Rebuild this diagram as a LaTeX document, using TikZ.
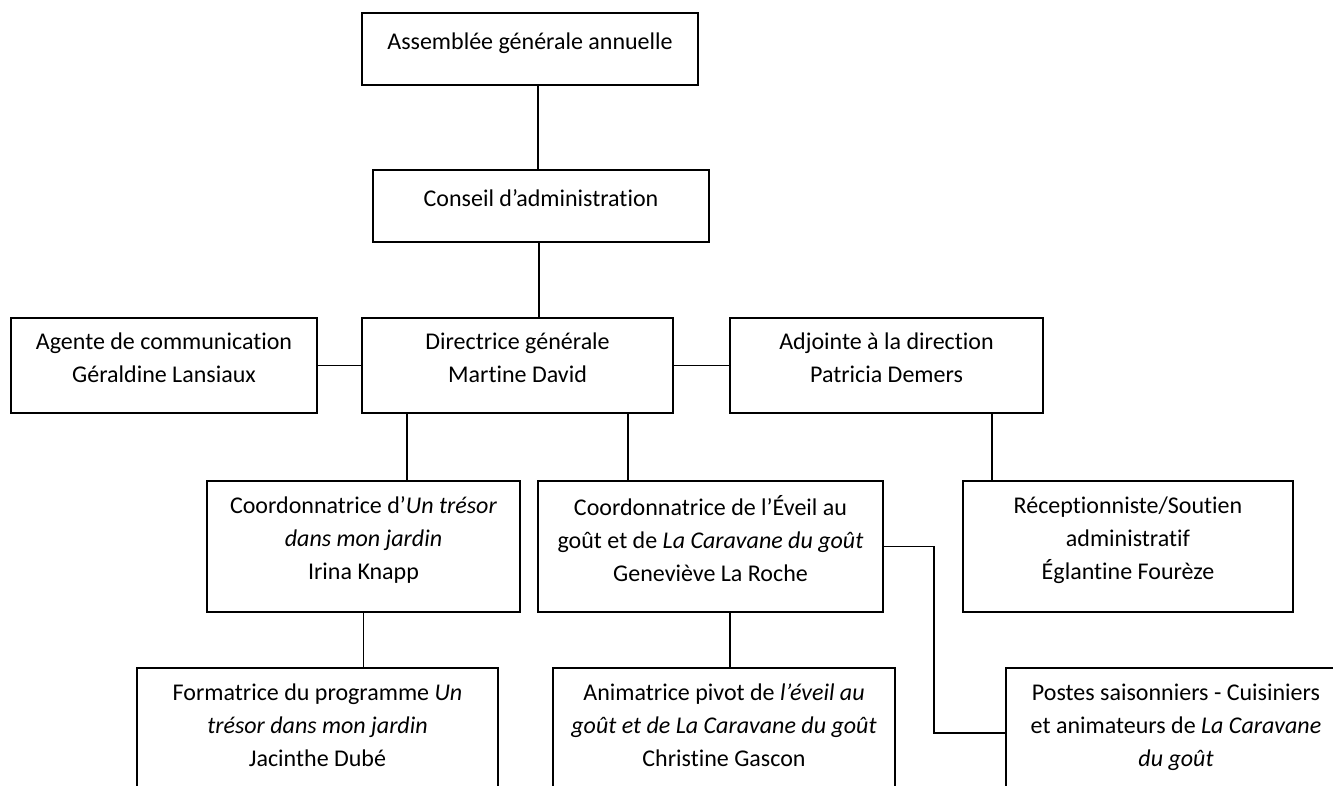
\documentclass[tikz,border=0pt]{standalone}
\usepackage{fontspec}
\setmainfont{Carlito}[Ligatures=CommonOff]
\usetikzlibrary{calc}

\begin{document}
\begin{tikzpicture}[x=1pt,y=-1pt,
  box/.style={draw,rectangle,line width=2.4pt,align=center,inner sep=0pt,
    font=\fontsize{24}{33}\selectfont,text depth=16pt},
  link/.style={line width=1.8pt}]
\useasboundingbox (0,0) rectangle (1333,785);
\clip (0,0) rectangle (1333,785);
\node[box,minimum width=336,minimum height=72] (ag) at (530,49) {Assemblée générale annuelle};
\node[box,minimum width=336,minimum height=72] (ca) at (541,206) {Conseil d’administration};
\node[box,minimum width=311,minimum height=95] (dg) at (517.5,365.5) {Directrice générale\\Martine David};
\node[box,minimum width=306,minimum height=95] (com) at (164,365.5) {Agente de communication\\Géraldine Lansiaux};
\node[box,minimum width=313,minimum height=95] (adj) at (886.5,365.5) {Adjointe à la direction\\Patricia Demers};
\node[box,minimum width=313,minimum height=131] (tresor) at (363.5,546.5)
  {Coordonnatrice d’\textit{Un trésor}\\\textit{dans mon jardin}\\Irina Knapp};
\node[box,minimum width=345,minimum height=131] (eveil) at (710.5,546.5)
  {Coordonnatrice de l’Éveil au\\goût et de \textit{La Caravane du goût}\\Geneviève La Roche};
\node[box,minimum width=330,minimum height=131] (recep) at (1128,546.5)
  {Réceptionniste/Soutien\\administratif\\Églantine Fourèze};
\node[box,minimum width=361,minimum height=130] (form) at (317.5,733)
  {Formatrice du programme \textit{Un}\\\textit{trésor dans mon jardin}\\Jacinthe Dubé};
\node[box,minimum width=342,minimum height=130] (anim) at (724,733)
  {Animatrice pivot de \textit{l’éveil au}\\\textit{goût et de La Caravane du goût}\\Christine Gascon};
\node[box,minimum width=340,minimum height=130] (postes) at (1176,733)
  {Postes saisonniers - Cuisiniers\\et animateurs de \textit{La Caravane}\\\textit{du goût}};

\draw[link] ($(ag.south)+(8,0)$) coordinate (a1) -- (a1 |- ca.north);
\draw[link] ($(ca.south)+(-2,0)$) coordinate (c1) -- (c1 |- dg.north);
\draw[link] (com.east) -- (dg.west);
\draw[link] (dg.east) -- (adj.west);
\draw[link] ($(dg.south west)+(46,0)$) coordinate (d1) -- (d1 |- tresor.north);
\draw[link] ($(dg.south west)+(267,0)$) coordinate (d2) -- (d2 |- eveil.north);
\draw[link] ($(adj.south west)+(263,0)$) coordinate (d3) -- (d3 |- recep.north);
\draw[link] (tresor.south) -- (tresor.south |- form.north);
\draw[link] ($(eveil.south west)+(193,0)$) coordinate (e1) -- (e1 |- anim.north);
\draw[link] (eveil.east) -- ++(50,0) |- (postes.west);
\end{tikzpicture}
\end{document}
